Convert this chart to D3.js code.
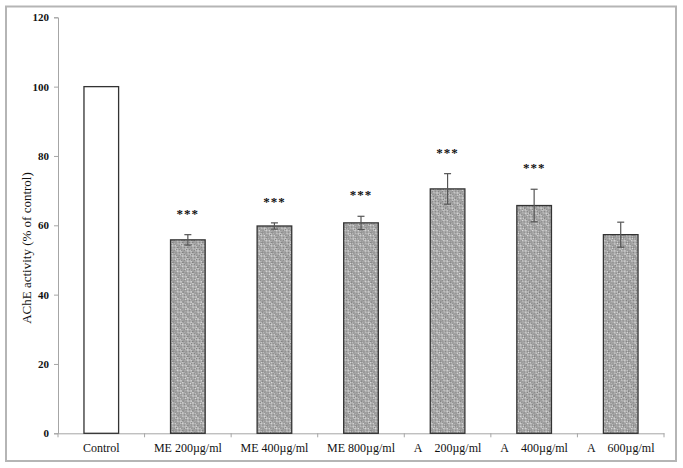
<!DOCTYPE html>
<html>
<head>
<meta charset="utf-8">
<title>AChE activity</title>
<script src="https://d3js.org/d3.v7.min.js"></script>
<style>
body { margin: 0; background: #fff; }
text { font-family: "Liberation Serif", "Times New Roman", serif; }
.axis path, .axis line { stroke: #a6a6a6; }
</style>
</head>
<body>
<svg id="chart" width="683" height="468"></svg>
<script>
// data
var categories = ["Control", "ME 200\u00b5g/ml", "ME 400\u00b5g/ml", "ME 800\u00b5g/ml",
                  "A\u2002\u2002200\u00b5g/ml", "A\u2002\u2002400\u00b5g/ml", "A\u2002\u2002600\u00b5g/ml"];
var means = [100, 55.8, 59.8, 60.7, 70.5, 65.7, 57.3];
var errs = [0, 1.5, 0.9, 1.9, 4.4, 4.7, 3.6];
var stars = ["", "***", "***", "***", "***", "***", ""];
var yTicks = [0, 20, 40, 60, 80, 100, 120];

var rows = categories.map(function(c, i) {
  return {cat: c, mean: means[i], err: errs[i], star: stars[i], idx: i};
});

var svg = d3.select("#chart");
var margin = {left: 58, right: 19, top: 17.3, bottom: 34.7};
var W = 683, H = 468;

// outer frame
svg.append("rect")
  .attr("x", 6).attr("y", 6.5).attr("width", 670).attr("height", 454.5)
  .attr("fill", "none").attr("stroke", "#b5b5b5").attr("stroke-width", 2);

// hatch pattern
var defs = svg.append("defs");
var checker = defs.append("pattern")
  .attr("id", "checker").attr("width", 2).attr("height", 2)
  .attr("patternUnits", "userSpaceOnUse");
checker.append("rect").attr("width", 2).attr("height", 2).attr("fill", "#dcdcdc");
checker.append("rect").attr("width", 1).attr("height", 1).attr("fill", "#808080");
checker.append("rect").attr("x", 1).attr("y", 1).attr("width", 1).attr("height", 1).attr("fill", "#808080");

var hatch = defs.append("pattern")
  .attr("id", "hatch").attr("width", 7).attr("height", 7)
  .attr("patternUnits", "userSpaceOnUse")
  .attr("patternTransform", "rotate(-45)");
hatch.append("rect").attr("width", 7).attr("height", 7).attr("fill", "url(#checker)");
hatch.append("rect").attr("width", 2.4).attr("height", 7).attr("fill", "#9a9a9a").attr("opacity", 0.8);

var x = d3.scaleBand().domain(categories)
  .range([margin.left, W - margin.right]).paddingInner(0.6).paddingOuter(0.3);
var y = d3.scaleLinear().domain([0, 120]).range([H - margin.bottom, margin.top]);

// y axis
var yAxis = svg.append("g").attr("class", "axis")
  .attr("transform", "translate(" + margin.left + ",0)")
  .call(d3.axisLeft(y).tickValues(yTicks).tickSize(4).tickPadding(5));
yAxis.selectAll("text").attr("font-size", 11).attr("font-weight", "bold").attr("fill", "#111");

// x axis
var xAxis = svg.append("g").attr("class", "axis")
  .attr("transform", "translate(0," + y(0) + ")")
  .call(d3.axisBottom(x).tickSize(0).tickPadding(10));
xAxis.selectAll("text").attr("font-size", 12).attr("fill", "#111");
// boundary tick marks between categories
var step = x.step();
var bounds = d3.range(categories.length + 1).map(function(i) { return margin.left + i * step; });
svg.append("g").selectAll("line").data(bounds).enter().append("line")
  .attr("x1", function(d) { return d; }).attr("x2", function(d) { return d; })
  .attr("y1", y(0)).attr("y2", y(0) + 4)
  .attr("stroke", "#a6a6a6");

// y label
svg.append("text")
  .attr("transform", "translate(31,248) rotate(-90)")
  .attr("text-anchor", "middle")
  .attr("font-size", 13)
  .attr("fill", "#111")
  .text("AChE activity (% of control)");

var cx = function(d) { return x(d.cat) + x.bandwidth() / 2; };

// bars
svg.append("g").selectAll("rect").data(rows).enter().append("rect")
  .attr("x", function(d) { return x(d.cat); })
  .attr("y", function(d) { return y(d.mean); })
  .attr("width", x.bandwidth())
  .attr("height", function(d) { return y(0) - y(d.mean); })
  .attr("fill", function(d) { return d.idx === 0 ? "#fff" : "url(#hatch)"; })
  .attr("stroke", "#333").attr("stroke-width", 1.3);

// error bars
var withErr = rows.filter(function(d) { return d.err > 0; });
var eb = svg.append("g").selectAll("g").data(withErr).enter().append("g");
eb.append("line")
  .attr("x1", cx).attr("x2", cx)
  .attr("y1", function(d) { return y(d.mean + d.err); })
  .attr("y2", function(d) { return y(d.mean - d.err); })
  .attr("stroke", "#555").attr("stroke-width", 1.2);
[1, -1].forEach(function(s) {
  eb.append("line")
    .attr("x1", function(d) { return cx(d) - 3.5; })
    .attr("x2", function(d) { return cx(d) + 3.5; })
    .attr("y1", function(d) { return y(d.mean + s * d.err); })
    .attr("y2", function(d) { return y(d.mean + s * d.err); })
    .attr("stroke", "#555").attr("stroke-width", 1.2);
});

// significance stars
svg.append("g").selectAll("text").data(rows).enter().append("text")
  .attr("x", cx)
  .attr("y", function(d) { return y(d.mean + d.err) - 17; })
  .attr("text-anchor", "middle")
  .attr("font-family", "DejaVu Sans")
  .attr("font-size", 13)
  .attr("font-weight", "bold")
  .attr("letter-spacing", 1)
  .attr("fill", "#111")
  .text(function(d) { return d.star; });
</script>
</body>
</html>
